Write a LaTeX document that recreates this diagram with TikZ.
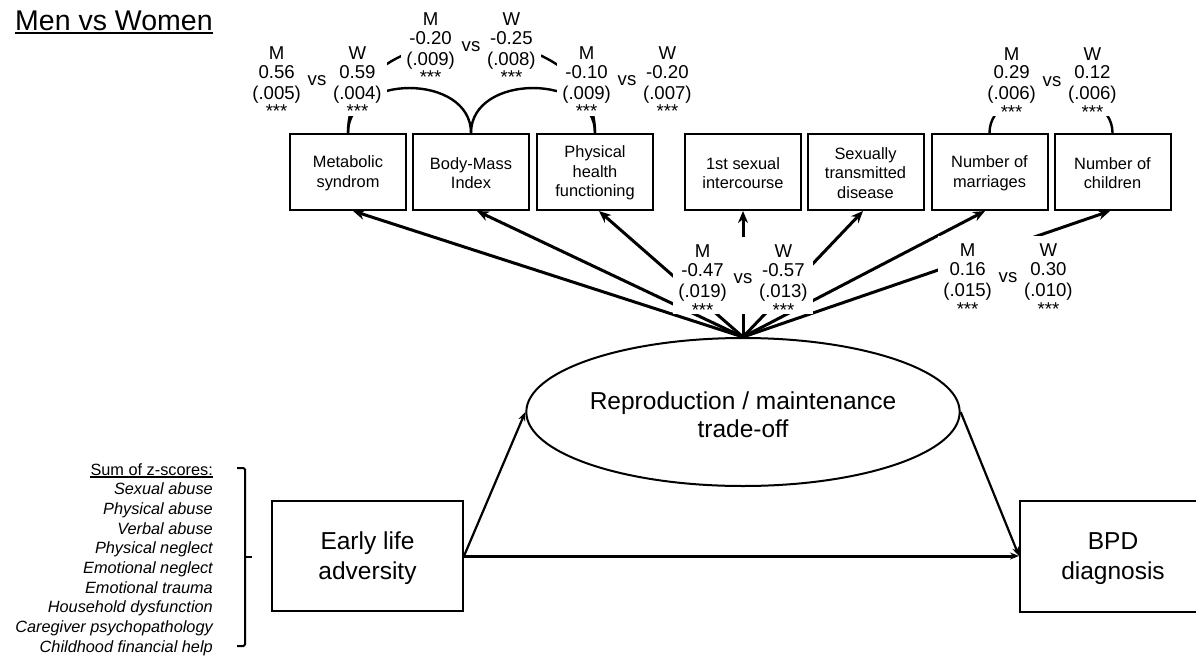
\documentclass[tikz,border=0pt]{standalone}
\usepackage{fontspec}
\setmainfont{Liberation Sans}
\usetikzlibrary{arrows.meta,shapes.geometric}
% Men / Women estimate pair: M estimate, M s.e., W estimate, W s.e.
\newcommand\mwpair[4]{%
  \begin{tabular}{@{}c@{\hspace{6.8pt}}c@{\hspace{6.8pt}}c@{}}
    \rule{0pt}{17pt}M & & W\\
    #1 & \raisebox{-7.5pt}{vs} & #3\\
    #2 & & #4\\
    \relax *** & & ***\\[-11.5pt]
  \end{tabular}}
\begin{document}
\begin{tikzpicture}[x=1pt,y=-1pt,
  every node/.style={inner sep=0pt},
  obs/.style={draw,line width=2pt,minimum width=116pt,minimum height=76pt,
    align=center,font=\fontsize{16.4}{19.5}\selectfont},
  bigbox/.style={draw,line width=2pt,align=center,font=\fontsize{24.5}{30}\selectfont},
  coef/.style={fill=white,inner xsep=5pt,inner ysep=4pt,anchor=north,
    font=\fontsize{18.6}{18.5}\selectfont},
  loadarrow/.style={line width=3pt,-{Stealth[length=12pt,width=10pt]}},
  lowarrow/.style={line width=2.2pt,-{Stealth[length=9pt,width=7pt]}},
  cov/.style={line width=2.4pt},
]
\clip (0,0) rectangle (1196,656);

% title
\node[anchor=base west,font=\fontsize{28.5}{34}\selectfont] (title) at (15,30) {Men vs Women};
\draw[line width=2pt] ([yshift=-2.8pt]title.base west) -- ([yshift=-2.8pt]title.base east);

% indicators of the latent trade-off
\node[obs] (met)   at (348,172)   {\rule{0pt}{14pt}Metabolic\\syndrom};
\node[obs] (bmi)   at (471,172)   {\rule{0pt}{14pt}Body-Mass\\Index};
\node[obs] (phys)  at (595,172)   {\rule{0pt}{14pt}Physical\\health\\functioning};
\node[obs] (first) at (743,172)   {\rule{0pt}{14pt}1st sexual\\intercourse};
\node[obs] (std)   at (865.5,172) {\rule{0pt}{14pt}Sexually\\transmitted\\disease};
\node[obs] (mar)   at (989.5,172) {\rule{0pt}{14pt}Number of\\marriages};
\node[obs] (chi)   at (1112.5,172){\rule{0pt}{14pt}Number of\\children};

% latent variable, exposure and outcome
\node[ellipse,draw,line width=2pt,minimum width=394pt,minimum height=148pt,
  align=center,font=\fontsize{24.5}{28}\selectfont] (ell) at (743,412)
  {\rule{0pt}{24pt}Reproduction / maintenance\\trade-off};
\node[bigbox,minimum width=191pt,minimum height=110pt] (early) at (367.5,556)
  {\rule{0pt}{23pt}Early life\\adversity};
\node[bigbox,minimum width=186pt,minimum height=111pt] (bpd) at (1113,556)
  {\rule{0pt}{23pt}BPD\\diagnosis};

% residual covariances
\draw[cov] (met.north) to[out=90,in=90,looseness=1.27] (phys.north);
\draw[cov] (met.north) to[out=90,in=90,looseness=1.25] (bmi.north);
\draw[cov] (bmi.north) to[out=90,in=90,looseness=1.24] (phys.north);
\draw[cov] (mar.north) to[out=90,in=90,looseness=1.12] (chi.north);

% loadings
\draw[loadarrow] (ell.north) -- ([xshift=5pt]met.south);
\draw[loadarrow] (ell.north) -- ([xshift=6pt]bmi.south);
\draw[loadarrow] (ell.north) -- ([xshift=4pt]phys.south);
\draw[loadarrow] (ell.north) -- (first.south);
\draw[loadarrow] (ell.north) -- ([xshift=-2.5pt]std.south);
\draw[loadarrow] (ell.north) -- ([xshift=-4.5pt]mar.south);
\draw[loadarrow] (ell.north) -- ([xshift=-2.5pt]chi.south);

% structural paths
\draw[lowarrow] (early.east) -- (ell.west);
\draw[lowarrow] (ell.east) -- (bpd.west);
\draw[lowarrow,line width=3pt] (early.east) -- (bpd.west);

% estimates
\node[coef] (c1) at (317,38.6)   {\mwpair{0.56}{(.005)}{0.59}{(.004)}};
\node[coef] (c2) at (471,4.6)    {\mwpair{-0.20}{(.009)}{-0.25}{(.008)}};
\node[coef] (c3) at (627,38.6)   {\mwpair{-0.10}{(.009)}{-0.20}{(.007)}};
\node[coef] (c4) at (1052,39)    {\mwpair{0.29}{(.006)}{0.12}{(.006)}};
\node[coef] (c5) at (743,236.6)  {\mwpair{-0.47}{(.019)}{-0.57}{(.013)}};
\node[coef] (c6) at (1008,235.6) {\mwpair{0.16}{(.015)}{0.30}{(.010)}};

% adversity components
\node[anchor=base east,font=\fontsize{16.3}{19.7}\selectfont] (sumhead) at (213,475) {Sum of z-scores:};
\draw[line width=1.3pt] ([yshift=-2pt]sumhead.base west) -- ([yshift=-2pt]sumhead.base east);
\node[anchor=base east,font=\itshape\fontsize{16.3}{19.7}\selectfont] (items) at (213,494.7)
  {\begin{tabular}[t]{@{}r@{}}
    Sexual abuse\\ Physical abuse\\ Verbal abuse\\ Physical neglect\\
    Emotional neglect\\ Emotional trauma\\ Household dysfunction\\
    Caregiver psychopathology\\ Childhood financial help
  \end{tabular}};
\draw[line width=2pt,rounded corners=1.5pt] (237,468) -- (245,468) -- (245,646) -- (237,646);
\draw[line width=2pt] (245,557) -- (252,557);
\end{tikzpicture}
\end{document}
